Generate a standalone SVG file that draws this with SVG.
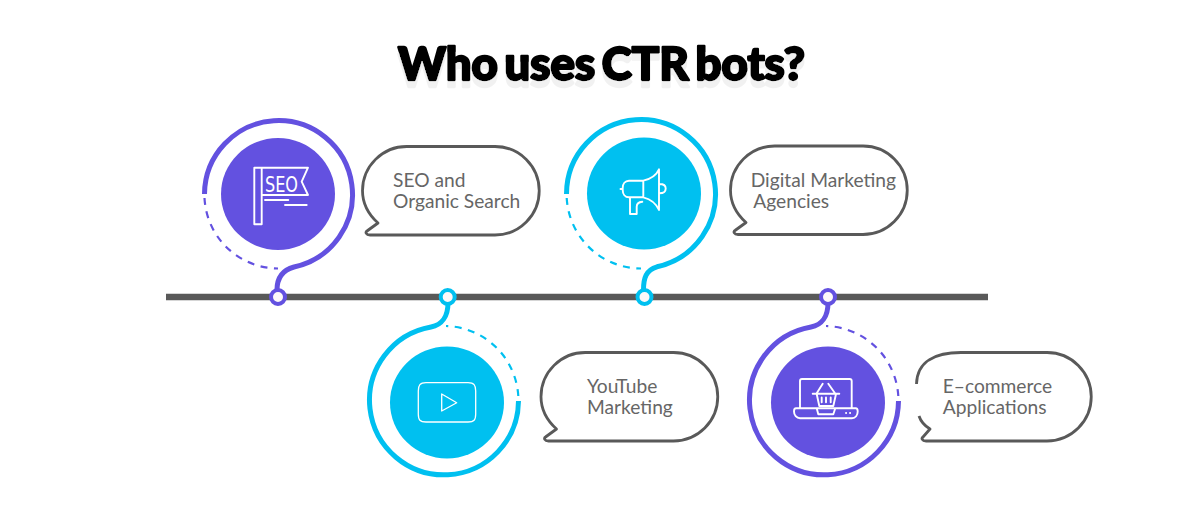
<svg xmlns="http://www.w3.org/2000/svg" width="1200" height="506" viewBox="0 0 1200 506">
<defs>
<filter id="reflect" x="-5%" y="-20%" width="110%" height="160%">
<feOffset in="SourceAlpha" dy="7" result="o"/>
<feFlood flood-color="#f1f1f1"/>
<feComposite in2="o" operator="in" result="s"/>
<feMerge><feMergeNode in="s"/><feMergeNode in="SourceGraphic"/></feMerge>
</filter>
</defs>
<style>
.title{font-family:Lato,"Liberation Sans",sans-serif;font-weight:900;font-size:45px;word-spacing:-4px;stroke-width:2.300;stroke-linejoin:round}
.lbl{font-family:Lato,"Liberation Sans",sans-serif;font-size:19.2px;fill:#666}
.bub{fill:none;stroke:#595959;stroke-width:2.8;stroke-linejoin:round}
.ico{fill:none;stroke:#fff;stroke-width:1.9;stroke-linejoin:round;stroke-linecap:round}
.ring{fill:none;stroke-width:5;stroke-linecap:butt}
.dash{fill:none;stroke-width:2.2;stroke-dasharray:7 6.500}
.dot{fill:#fdf9f9;stroke-width:4}
.p{stroke:#6351e0}.b{stroke:#00c0f0}
.pf{fill:#6351e0}.bf{fill:#00c0f0}
</style>
<rect width="1200" height="506" fill="#fff"/>
<g id="title">
<text class="title" x="398" y="80" fill="#000" stroke="#000" textLength="407" lengthAdjust="spacingAndGlyphs" filter="url(#reflect)">Who uses CTR bots?</text>
</g>
<g id="connectors">
<line x1="166" y1="297" x2="988" y2="297" stroke="#595959" stroke-width="6.500"/>
<path class="ring p" d="M204.500 194A74 74 0 1 1 294 267C283 270 277 278 277 290"/>
<path class="dash p" d="M204.500 198A74 74 0 0 0 278 268.500"/>
<path class="ring b" d="M518.500 401A74.500 74.500 0 1 1 431 327C442 325 448 316 448 303"/>
<path class="dash b" d="M518.300 396A74.500 74.500 0 0 0 446 326"/>
<path class="ring b" d="M566.500 194A74.500 74.500 0 1 1 657 266.800C646 270 643.500 278 643.500 290"/>
<path class="dash b" d="M566.700 198A74.500 74.500 0 0 0 641 268.500"/>
<path class="ring p" d="M898.500 401A74.500 74.500 0 1 1 811 327C822 325 828 316 828 303"/>
<path class="dash p" d="M898.300 396A74.500 74.500 0 0 0 826 326"/>
<circle class="dot p" cx="278" cy="297" r="7"/>
<circle class="dot b" cx="447.700" cy="297" r="7"/>
<circle class="dot b" cx="644.500" cy="297" r="7"/>
<circle class="dot p" cx="828" cy="297" r="7"/>
</g>
<g id="node-seo">
<ellipse class="pf" cx="278" cy="194" rx="57" ry="56"/>
<path class="ico" d="M254.300 167.700H261.700V224.300H254.300ZM261.700 167.700H308L301.700 181.700L308 195H261.700M265 200H288.300M285 205H306.700"/>
<text x="265" y="191.500" font-family="'DejaVu Sans Condensed','DejaVu Sans',sans-serif" font-size="22" fill="#fff" textLength="33" lengthAdjust="spacingAndGlyphs">SEO</text>
<path class="bub" d="M407 146.500H495A44.250 44.250 0 0 1 495 235H370C366 235 365 232 367 231L378 223C368 214 362.500 203 362.500 190.750A44.250 44.250 0 0 1 407 146.500Z"/>
<text class="lbl" x="393" y="186.500">SEO and</text>
<text class="lbl" x="393" y="207.500">Organic Search</text>
</g>
<g id="node-youtube">
<ellipse class="bf" cx="447" cy="402.500" rx="57" ry="56"/>
<path class="ico" style="stroke-width:1.300" d="M426 382.700H468C474 382.700 475.700 385 475.700 391V414C475.700 420 474 422 468 422H426C420 422 418.300 420 418.300 414V391C418.300 385 420 382.700 426 382.700ZM441.700 394L456.700 402.700L441.700 411Z"/>
<path class="bub" d="M585.500 352.500H673.500A44.250 44.250 0 0 1 673.500 441H548.500C544.500 441 543.500 438 545.500 437L556.500 429C546.500 420 541 409 541 396.750A44.250 44.250 0 0 1 585.500 352.500Z"/>
<text class="lbl" x="587" y="393">YouTube</text>
<text class="lbl" x="587" y="414">Marketing</text>
</g>
<g id="node-agencies">
<ellipse class="bf" cx="644" cy="193.500" rx="57" ry="56"/>
<path class="ico" d="M643.300 180.700H629C625 180.700 622.700 184 622.700 188V190C622.700 194 625 197.300 629 197.300H643.300ZM643.300 180.700C650 179 656 176 659 169.300V210C656 203 650 199 643.300 197.300M659.500 184C664 184 665.700 186 665.700 188.500C665.700 191 664 193.300 659.500 193.300M620.500 189H622.700M630 197.300V214H636.700V206.700C636.700 204 638 202 642.300 201.700"/>
<path class="bub" d="M775 146H863A44.250 44.250 0 0 1 863 234.500H738C734 234.500 733 231.500 735 230.500L746 222.500C736 213.500 730.500 202.500 730.500 190.250A44.250 44.250 0 0 1 775 146Z"/>
<text class="lbl" x="750.700" y="187">Digital Marketing</text>
<text class="lbl" x="753.300" y="208">Agencies</text>
</g>
<g id="node-ecommerce">
<ellipse class="pf" cx="828" cy="402.500" rx="57" ry="56"/>
<path class="ico" d="M800 408.300V381C800 379.700 800.700 379 802 379H849.700C851 379 851.700 379.700 851.700 381V408.300M796 408.300H855.700C857.500 408.300 857.700 410 857.700 411.500C857.700 415 855.500 418.300 852 418.300H800C796.500 418.300 794 415 794 411.500C794 410 794.300 408.300 796 408.300ZM816.700 408.300L818.300 414.300H833.300L835.300 408.300M846 413H846.200M850 413H850.200M812.700 393.800H839.300M816.700 394L819.300 406H833.300L836 394M821.700 397.500V402.300M826 397.500V402.300M830.700 397.500V402.300M816.700 393.300L822.700 383.800M835 393.300L828.300 383.800"/>
<path class="bub" d="M916.500 384C917 361 936 352.500 961 352.500H1047A44.250 44.250 0 0 1 1047 441H926C922 441 921 438 923 437L930 429C925 426 921 422 919 416"/>
<text class="lbl" x="942.700" y="393">E–commerce</text>
<text class="lbl" x="942.700" y="414">Applications</text>
</g>
</svg>
